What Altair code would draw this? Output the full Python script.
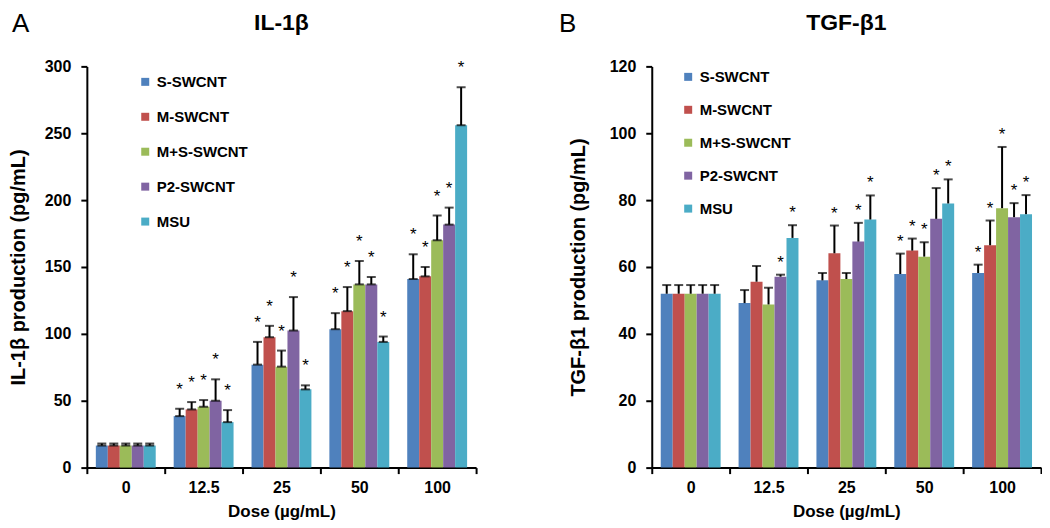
import altair as alt
import pandas as pd

doses = ["0", "12.5", "25", "50", "100"]
groups = ["S-SWCNT", "M-SWCNT", "M+S-SWCNT", "P2-SWCNT", "MSU"]
colors = ["#4F81BD", "#C0504D", "#9BBB59", "#8064A2", "#4BACC6"]

# IL-1beta (pg/mL): one list per dose, values in group order
il1b_mean = [
    [16.5, 16.5, 16.5, 16.5, 16.5],
    [38.5, 43.5, 45.5, 50.0, 34.0],
    [77.0, 97.5, 75.5, 102.5, 58.5],
    [103.5, 117.0, 137.0, 137.0, 94.0],
    [141.0, 143.0, 170.0, 181.7, 256.0],
]
il1b_err = [
    [1.5, 1.5, 1.5, 1.5, 1.5],
    [5.5, 5.5, 5.0, 16.0, 9.0],
    [17.0, 8.5, 12.0, 25.0, 3.0],
    [12.0, 18.0, 17.5, 5.5, 4.0],
    [18.5, 7.0, 18.5, 12.7, 28.4],
]
il1b_sig = [
    [0, 0, 0, 0, 0],
    [1, 1, 1, 1, 1],
    [1, 1, 1, 1, 1],
    [1, 1, 1, 1, 1],
    [1, 1, 1, 1, 1],
]

# TGF-beta1 (pg/mL)
tgf_mean = [
    [52.0, 52.0, 52.0, 52.0, 52.0],
    [49.2, 55.6, 48.8, 57.1, 68.7],
    [56.0, 64.1, 56.4, 67.6, 74.2],
    [57.9, 64.9, 63.1, 74.4, 79.0],
    [58.2, 66.5, 77.6, 74.9, 75.8],
]
tgf_err = [
    [2.6, 2.6, 2.6, 2.6, 2.6],
    [3.9, 4.7, 5.0, 0.6, 3.8],
    [2.2, 8.3, 1.8, 5.6, 7.2],
    [6.1, 3.6, 4.3, 9.2, 7.2],
    [2.5, 7.4, 18.3, 4.2, 5.7],
]
tgf_sig = [
    [0, 0, 0, 0, 0],
    [0, 0, 0, 1, 1],
    [0, 1, 0, 1, 1],
    [1, 1, 1, 1, 1],
    [1, 1, 1, 1, 1],
]


def make_df(mean, err, sig):
    rows = []
    for i, d in enumerate(doses):
        for j, g in enumerate(groups):
            rows.append({"dose": d, "group": g, "value": mean[i][j],
                         "top": mean[i][j] + err[i][j], "sig": sig[i][j]})
    return pd.DataFrame(rows)


FONT = "Liberation Sans"


def panel(df, letter, letter_x, title, ytitle, ymax, ystep, star_dy,
          leg_x, leg_y, leg_row, title_pad, lower_cap):
    xenc = alt.X("dose:N", sort=doses,
                 scale=alt.Scale(paddingInner=0, paddingOuter=0),
                 axis=alt.Axis(title="Dose (µg/mL)", labelAngle=0, tickBand="extent",
                               labelFontSize=16, labelFontWeight="bold", labelColor="black",
                               labelFont=FONT, titleFont=FONT,
                               titleFontSize=17, titleFontWeight="bold", titleColor="black",
                               tickSize=6, tickWidth=2, tickColor="black",
                               domainColor="black", domainWidth=2,
                               labelPadding=6, titlePadding=8))
    xoff = alt.XOffset("group:N", sort=groups,
                       scale=alt.Scale(paddingInner=0, paddingOuter=0.75))
    yscale = alt.Scale(domain=[0, ymax], nice=False)
    yaxis = alt.Axis(title=ytitle, values=list(range(0, ymax + 1, ystep)), grid=False,
                     labelFontSize=16, labelFontWeight="bold", labelColor="black",
                     labelFont=FONT, titleFont=FONT,
                     titleFontSize=20, titleFontWeight="bold", titleColor="black",
                     tickSize=6, tickWidth=2, tickColor="black",
                     domainColor="black", domainWidth=2,
                     labelPadding=10, titlePadding=title_pad)
    base = alt.Chart(df).encode(x=xenc, xOffset=xoff)

    bars = base.mark_bar().encode(
        y=alt.Y("value:Q", scale=yscale, axis=yaxis),
        color=alt.Color("group:N", sort=groups,
                        scale=alt.Scale(domain=groups, range=colors),
                        legend=alt.Legend(orient="none", legendX=leg_x, legendY=leg_y, title=None,
                                          symbolType="square", symbolSize=64, symbolStrokeWidth=0,
                                          labelFontSize=15, labelFontWeight="bold", labelColor="black",
                                          labelFont=FONT, rowPadding=leg_row, padding=0, labelOffset=4)),
    )
    ytop = alt.Y("top:Q", scale=yscale, axis=yaxis)
    rules = base.mark_rule(color="black", strokeWidth=2).encode(
        y=alt.Y("value:Q", scale=yscale, axis=yaxis), y2="top:Q")
    caps = base.mark_tick(color="black", thickness=2, size=9).encode(y=ytop)
    layers = [bars, rules, caps]
    if lower_cap:
        layers.append(base.mark_tick(color="black", thickness=2, size=9).encode(
            y=alt.Y("value:Q", scale=yscale, axis=yaxis)))
    stars = base.transform_filter("datum.sig == 1").mark_text(
        text="*", fontSize=17, font=FONT, color="black", baseline="alphabetic", dy=star_dy
    ).encode(y=ytop)
    layers.append(stars)
    lab = alt.Chart(pd.DataFrame({"t": [letter]})).mark_text(
        font=FONT, fontSize=26, color="black", align="left", baseline="alphabetic"
    ).encode(text="t:N", x=alt.value(letter_x), y=alt.value(-34))
    layers.append(lab)
    return alt.layer(*layers).properties(
        width=390, height=402,
        title=alt.TitleParams(title, fontSize=23, fontWeight="bold", font=FONT,
                              color="black", anchor="middle", offset=-24),
    )


left = panel(make_df(il1b_mean, il1b_err, il1b_sig), "A", -75, "IL-1β",
             "IL-1β production (pg/mL)", 300, 50, -14, 51, 8, 19, 16, True)
right = panel(make_df(tgf_mean, tgf_err, tgf_sig), "B", -93, "TGF-β1",
              "TGF-β1 production (pg/mL)", 120, 20, -7, 29, 3, 17, 21, False)

chart = alt.hconcat(left, right, spacing=82).resolve_legend(color="independent").properties(
    padding={"left": 0, "top": 3, "right": 0, "bottom": 0}
).configure_view(stroke=None)

chart.save("out.html", embed_options={"renderer": "svg", "actions": False})
